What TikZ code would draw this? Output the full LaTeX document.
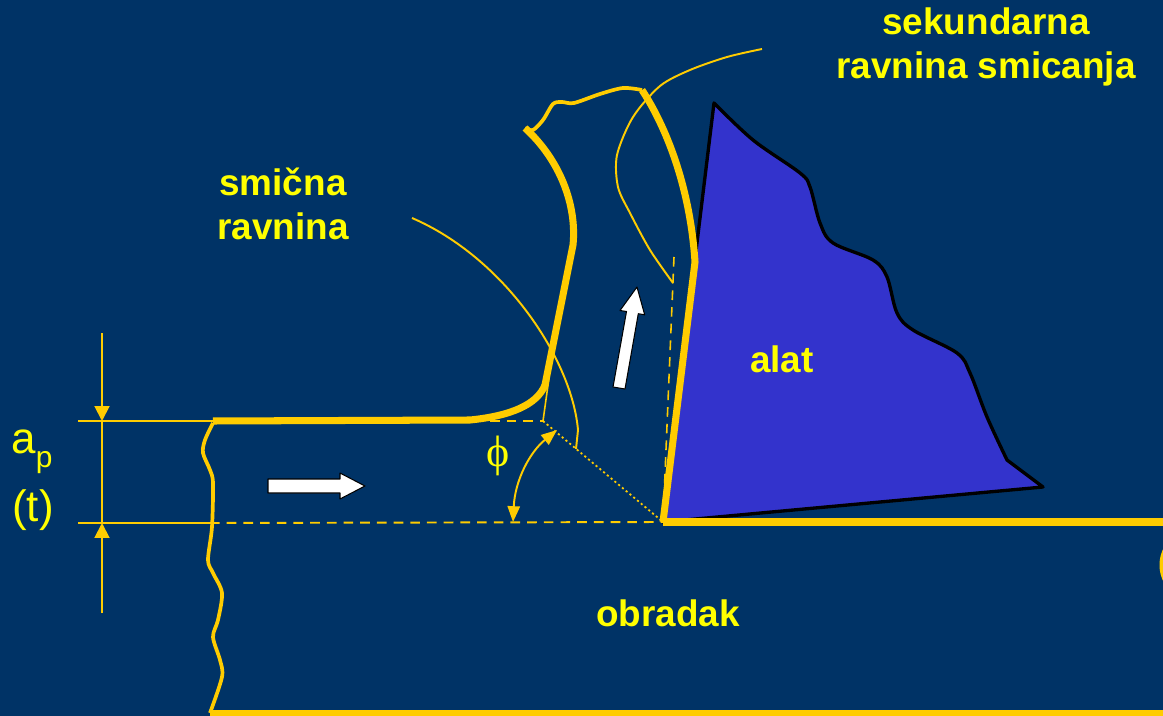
\documentclass[tikz,border=0pt]{standalone}
\usepackage{fontspec}
\setmainfont{Liberation Sans}
\newfontfamily\seriffont{Liberation Serif}
\usetikzlibrary{arrows.meta}
\definecolor{bgblue}{RGB}{0,51,102}
\definecolor{lineyel}{RGB}{255,204,0}
\definecolor{txtyel}{RGB}{255,255,0}
\definecolor{toolblue}{RGB}{51,51,204}
\tikzset{
  cutline/.style={lineyel,line width=4pt},
  wavyline/.style={lineyel,line width=2.1pt},
  auxline/.style={lineyel,line width=1.1pt},
  dashline/.style={auxline,dash pattern=on 5.5pt off 4pt},
  dimtip/.style={-{Triangle[length=8.5pt,width=8.5pt]}},
  lbl/.style={text=txtyel,font=\bfseries\fontsize{21}{25}\selectfont,align=center},
  dimlbl/.style={text=txtyel,font=\fontsize{25}{28}\selectfont,inner sep=0pt},
  movearrow/.style={fill=white,draw=black,line width=.6pt}
}
\begin{document}
\begin{tikzpicture}[x=.02cm,y=-.02cm,line join=round]
\fill[bgblue] (0,0) rectangle (1163,716);
\useasboundingbox (0,0) rectangle (1163,716);
\coordinate (tip) at (663,522);
% alat
\filldraw[fill=toolblue,draw=black,line width=1.9pt] (tip) -- plot[smooth,tension=.55] coordinates {(714,103) (753,140) (800,173) (810,187) (820,223) (833,243) (873,260) (887,277) (897,313) (913,330) (957,353) (970,373) (987,417) (1007,460)} -- (1043,487) -- cycle;
\draw[dashline,line width=.9pt] (674,257) -- (tip);
% obradak i strugotina
\draw[cutline] (213,421) -- (470,420) .. controls (510,416) and (537,405) .. (545,385) -- (573,245) .. controls (577,205) and (560,160) .. (525,128);
\draw[wavyline] plot[smooth] coordinates {(525,128) (533,130) (543,120) (553,104) (562,102) (574,103) (600,94) (623,88) (642,90)};
\draw[cutline] (642,90) .. controls (665,125) and (690,185) .. (695,262) -- (tip);
\draw[cutline] (tip) -- (1163,522);\draw[cutline] (210,714) -- (1163,714);
\draw[cutline] (1172,542) .. controls (1160,555) and (1160,575) .. (1172,588);
\draw[wavyline] plot[smooth] coordinates {(213,423) (205,440) (203,453) (210,470) (213,483) (212,527) (208,560) (213,573) (222,593) (218,620) (213,637) (220,660) (222,677) (210,713)};
% ravnine smicanja
\draw[dashline] (490,421) -- (543,421);
\draw[auxline,line width=1pt,dash pattern=on 1.2pt off 1.6pt] (543,421) -- (tip);
\draw[auxline,line width=.9pt] (543,421) -- (549,378);
\draw[auxline] (412,218) .. controls (505,258) and (572,360) .. (578,430) -- (576,449);
\draw[auxline] plot[smooth] coordinates {(762,49) (727,57) (690,70) (660,86) (633,117) (617,155) (618,187) (630,213) (650,250) (673,283)};
% kut phi
\draw[auxline,{Triangle[length=9pt,width=7pt]}-{Triangle[length=9pt,width=7pt]}] (513,522) .. controls (515,480) and (530,452) .. (557,430);
% dubina rezanja
\draw[auxline] (78,421) -- (213,421);\draw[auxline] (78,523) -- (210,523);
\draw[dashline] (210,523) -- (tip);
\draw[auxline] (102,421) -- (102,523);
\draw[auxline,dimtip] (102,333) -- (102,421);\draw[auxline,dimtip] (102,613) -- (102,523);
% smjer gibanja
\filldraw[movearrow] (268,479) -- (340,479) -- (340,473) -- (365,486) -- (340,499) -- (340,493) -- (268,493) -- cycle;
\filldraw[movearrow] (613,387) -- (626.5,311.5) -- (620,310.5) -- (637,287) -- (644.7,314.8) -- (638.3,313.7) -- (625,389) -- cycle;
% oznake
\node[lbl] (sek) at (986,47) {sekundarna\\ravnina smicanja};
\node[lbl] (smic) at (283,204) {smična\\ravnina};
\node[lbl] (alat) at (782,359) {alat};
\node[lbl] (obr) at (668,613) {obradak};
\node[dimlbl,anchor=base west] (ap) at (11,453) {a\raisebox{-8pt}{\fontsize{17}{18}\selectfont p}};
\node[dimlbl,anchor=base west] (t) at (12,521) {(t)};
\node[text=txtyel,font=\seriffont\fontsize{25}{28}\selectfont] (phi) at (498,456) {ϕ};
\end{tikzpicture}
\end{document}
